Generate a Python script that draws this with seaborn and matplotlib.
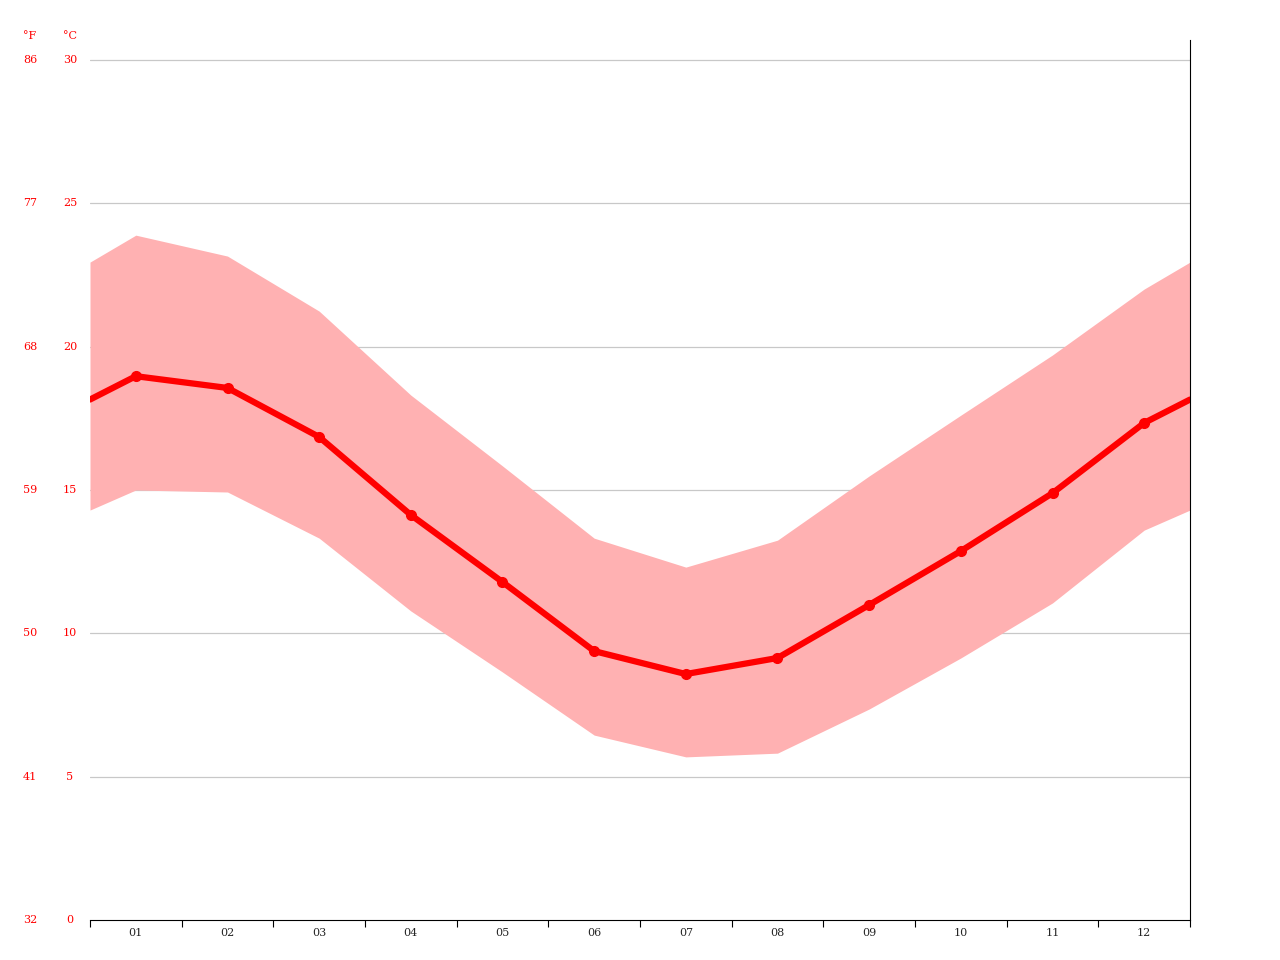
import matplotlib
matplotlib.use("Agg")
import matplotlib.pyplot as plt
import matplotlib.transforms as mtransforms
import numpy as np
import pandas as pd
import seaborn as sns

months = ["01", "02", "03", "04", "05", "06", "07", "08", "09", "10", "11", "12"]
temp_mean = [18.97, 18.56, 16.85, 14.13, 11.79, 9.38, 8.58, 9.14, 10.99, 12.87, 14.89, 17.34]
temp_max = [23.89, 23.16, 21.24, 18.31, 15.84, 13.32, 12.31, 13.25, 15.49, 17.61, 19.71, 22.01]
temp_min = [15.0, 14.93, 13.32, 10.78, 8.65, 6.45, 5.69, 5.82, 7.36, 9.14, 11.06, 13.6]
c_ticks = [0, 5, 10, 15, 20, 25, 30]
f_ticks = [32, 41, 50, 59, 68, 77, 86]

sns.set_style("white")
plt.rcParams["font.family"] = ["DejaVu Serif"]

# wrap the year so the curve runs to both edges
def wrapped(vals):
    edge = (vals[0] + vals[-1]) / 2
    return [edge] + list(vals) + [edge]

x = [0.5] + list(range(1, 13)) + [12.5]
df = pd.DataFrame({"month": x, "mean": wrapped(temp_mean)})

fig = plt.figure(figsize=(12.8, 9.6), dpi=100)
ax = fig.add_axes([90 / 1280, 40 / 960, 1100 / 1280, 880 / 960])

ax.fill_between(x, wrapped(temp_min), wrapped(temp_max), color="#ffb1b2", lw=0)
sns.lineplot(data=df, x="month", y="mean", ax=ax, color="#ff0000", lw=4.5)
ax.plot(range(1, 13), temp_mean, "o", color="#ff0000", ms=7)

ax.set_xlim(0.5, 12.5)
ax.set_ylim(0, 880 / (860 / 30))
for c in c_ticks[1:]:
    ax.axhline(c, color="#c8c8c8", lw=0.9, zorder=0)

ax.set_xticks(np.arange(0.5, 13, 1))
ax.set_xticklabels([])
ax.set_xticks(range(1, 13), minor=True)
ax.set_xticklabels(months, minor=True, fontsize=8)
ax.tick_params(axis="x", which="major", length=5, direction="out", color="black", bottom=True)
ax.tick_params(axis="x", which="minor", length=0, pad=6)
ax.set_yticks([])
ax.set_xlabel("")
ax.set_ylabel("")

for side in ["left", "top"]:
    ax.spines[side].set_visible(False)
ax.spines["bottom"].set_color("black")
ax.spines["right"].set_color("black")

trans = mtransforms.blended_transform_factory(fig.transFigure, ax.transData)
for c, f in zip(c_ticks, f_ticks):
    ax.text(30 / 1280, c, str(f), transform=trans, color="red", fontsize=8, ha="center", va="center")
    ax.text(70 / 1280, c, str(c), transform=trans, color="red", fontsize=8, ha="center", va="center")
fig.text(30 / 1280, 1 - 36 / 960, "°F", color="red", fontsize=8, ha="center", va="center")
fig.text(70 / 1280, 1 - 36 / 960, "°C", color="red", fontsize=8, ha="center", va="center")

fig.savefig("out.png", dpi=100)
